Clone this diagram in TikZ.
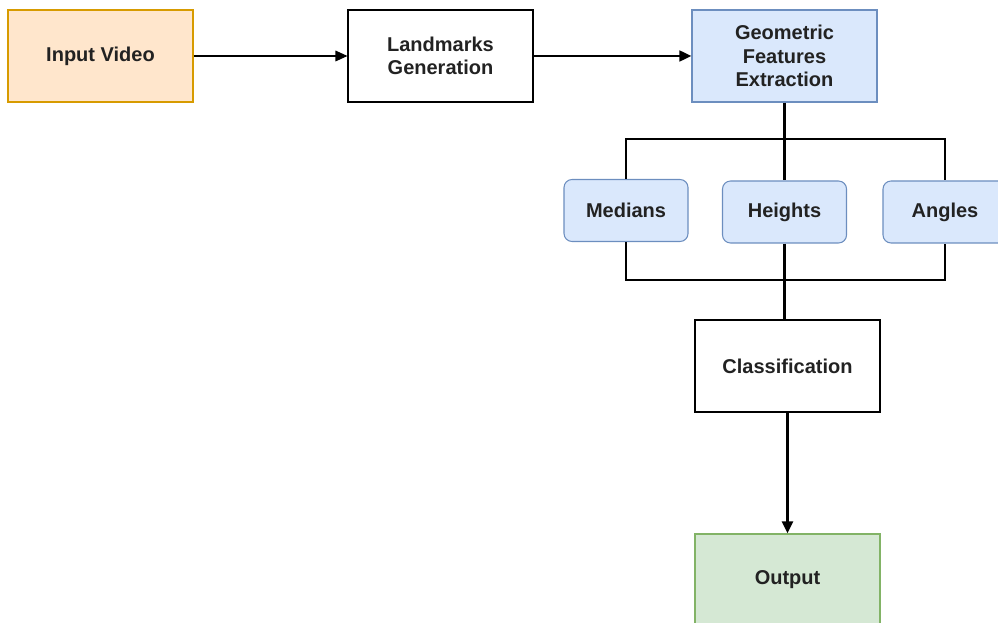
\documentclass[tikz,border=0pt]{standalone}
\usepackage{fontspec}
\setmainfont{Liberation Sans}
\usetikzlibrary{arrows.meta}

\definecolor{videofill}{HTML}{FFE6CC}
\definecolor{videoline}{HTML}{D79B00}
\definecolor{featfill}{HTML}{DAE8FC}
\definecolor{featline}{HTML}{6C8EBF}
\definecolor{outfill}{HTML}{D5E8D4}
\definecolor{outline}{HTML}{82B366}
\definecolor{textgray}{HTML}{222222}

\begin{document}
\begin{tikzpicture}[x=0.75pt, y=-0.75pt,
    block/.style={draw, line width=0.8pt, minimum width=138.75pt, minimum height=69pt,
        inner sep=0pt, align=center, text=textgray,
        font=\bfseries\fontsize{15}{17.6}\selectfont},
    feature/.style={block, draw=featline, fill=featfill, rounded corners=6pt,
        minimum width=93pt, minimum height=46.5pt},
    bus/.style={line width=2.2pt},
    flow/.style={-{Triangle[length=9pt, width=8pt]}}]

    \useasboundingbox (0,0) rectangle (998,623);

    % === Top row ===
    \node[block, draw=videoline, fill=videofill] (video) at (100.5, 56) {Input Video};
    \node[block] (landmarks) at (440.5, 56) {Landmarks\\Generation};
    \node[block, draw=featline, fill=featfill] (geometric) at (784.5, 56) {Geometric\\Features\\Extraction};

    % === Feature boxes ===
    \node[feature] (medians) at (626, 210.5) {Medians};
    \node[feature] (heights) at (784.5, 212) {Heights};
    \node[feature] (angles) at (945, 212) {Angles};

    % === Lower column ===
    \node[block] (classification) at (787.5, 366) {Classification};
    \node[block, draw=outline, fill=outfill] (output) at (787.5, 580) {Output};

    % === Connectors ===
    \draw[flow, line width=0.9pt] (video) -- (landmarks);
    \draw[flow, line width=1.9pt] (landmarks) -- (geometric);

    % bus above and below the features
    \coordinate (topbus) at (784.5, 139);
    \coordinate (botbus) at (784.5, 280);
    \draw[bus] (geometric.south) -- (heights.north);
    \draw[bus] (medians.north) |- (topbus) -| (angles.north);
    \draw[bus] (medians.south) |- (botbus) -| (angles.south);
    \draw[bus] (heights.south) -- (heights.south |- classification.north);

    \draw[bus, flow] (classification.south) -- (output.north);

\end{tikzpicture}
\end{document}
